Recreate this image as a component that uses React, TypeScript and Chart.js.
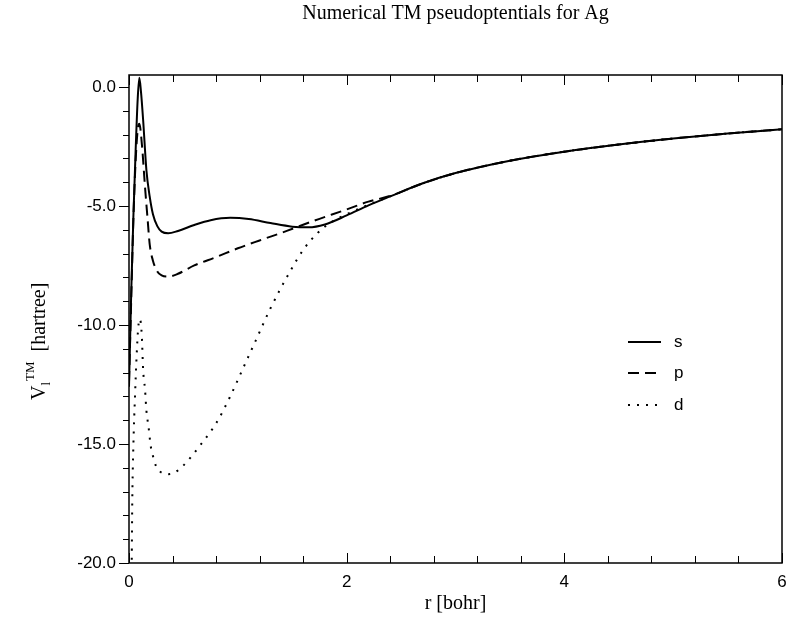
import React, { useEffect, useRef } from 'react';
import { Chart, registerables } from 'chart.js';

Chart.register(...registerables);

const chartTitle = 'Numerical TM pseudoptentials for Ag';
const xAxisTitle = 'r [bohr]';
const seriesNames = ['s', 'p', 'd'];

const rS = [0, 0.02, 0.04, 0.06, 0.08, 0.095, 0.11, 0.13, 0.16, 0.19, 0.22, 0.26, 0.3, 0.36, 0.45, 0.6, 0.75, 0.93, 1.1, 1.3, 1.5, 1.65, 1.8, 2.0, 2.2, 2.4, 2.7, 3.0, 3.5, 4.0, 4.5, 5.0, 5.5, 6.0];
const vS = [-12.6, -8.7, -5.5, -2.8, -0.5, 0.38, -0.2, -1.4, -3.5, -4.6, -5.35, -5.85, -6.08, -6.15, -6.05, -5.8, -5.6, -5.5, -5.55, -5.72, -5.87, -5.9, -5.78, -5.4, -4.98, -4.6, -4.05, -3.62, -3.1, -2.72, -2.42, -2.17, -1.96, -1.78];

const rP = [0, 0.02, 0.04, 0.06, 0.08, 0.095, 0.12, 0.147, 0.17, 0.19, 0.22, 0.26, 0.3, 0.36, 0.45, 0.6, 0.8, 1.0, 1.2, 1.45, 1.7, 2.0, 2.2, 2.4, 2.7, 3.0, 3.5, 4.0, 4.5, 5.0, 5.5, 6.0];
const vP = [-12.4, -9.0, -5.6, -3.2, -1.8, -1.55, -2.5, -4.2, -5.5, -6.6, -7.3, -7.75, -7.92, -7.97, -7.85, -7.5, -7.15, -6.78, -6.45, -6.05, -5.62, -5.15, -4.82, -4.58, -4.05, -3.62, -3.1, -2.72, -2.42, -2.17, -1.96, -1.78];

const rD = [0.02, 0.025, 0.03, 0.04, 0.055, 0.07, 0.085, 0.1, 0.117, 0.13, 0.147, 0.16, 0.18, 0.2, 0.22, 0.25, 0.31, 0.36, 0.42, 0.5, 0.65, 0.81, 0.93, 1.05, 1.16, 1.3, 1.48, 1.6, 1.73, 1.86, 2.0, 2.2, 2.4, 2.7, 3.0, 3.5, 4.0, 4.5, 5.0, 5.5, 6.0];
const vD = [-22.5, -20, -17.4, -15.1, -13.0, -11.3, -10.1, -9.75, -10.4, -11.9, -12.7, -13.6, -14.3, -15.1, -15.5, -15.95, -16.23, -16.27, -16.2, -15.9, -15.08, -14.06, -13.0, -11.8, -10.7, -9.3, -7.75, -6.85, -6.15, -5.68, -5.35, -4.95, -4.6, -4.05, -3.62, -3.1, -2.72, -2.42, -2.17, -1.96, -1.78];

const xMajor = [0, 2, 4, 6];
const xMinor = [0.4, 0.8, 1.2, 1.6, 2.4, 2.8, 3.2, 3.6, 4.4, 4.8, 5.2, 5.6];
const yMajor = [-20, -15, -10, -5, 0];
const yMinor = [-19, -18, -17, -16, -14, -13, -12, -11, -9, -8, -7, -6, -4, -3, -2, -1];

const SERIF = '"Liberation Serif", "Times New Roman", serif';
const SANS = '"Liberation Sans", Arial, sans-serif';

const decorPlugin = {
  id: 'decor',
  afterDraw(chart: any) {
    const ctx = chart.ctx;
    const ca = chart.chartArea;
    const xs = chart.scales.x;
    const ys = chart.scales.y;
    ctx.save();
    ctx.strokeStyle = '#000';
    ctx.fillStyle = '#000';
    ctx.lineWidth = 1.5;
    ctx.strokeRect(ca.left, ca.top, ca.right - ca.left, ca.bottom - ca.top);
    ctx.lineWidth = 1;
    const xt = (v: number, len: number) => {
      const px = Math.round(xs.getPixelForValue(v)) + 0.5;
      ctx.beginPath();
      ctx.moveTo(px, ca.bottom);
      ctx.lineTo(px, ca.bottom - len);
      ctx.moveTo(px, ca.top);
      ctx.lineTo(px, ca.top + len);
      ctx.stroke();
    };
    xMajor.forEach((v) => xt(v, 10));
    xMinor.forEach((v) => xt(v, 7));
    const yt = (v: number, len: number) => {
      const py = Math.round(ys.getPixelForValue(v)) + 0.5;
      ctx.beginPath();
      ctx.moveTo(ca.left, py);
      ctx.lineTo(ca.left - len, py);
      ctx.stroke();
    };
    yMajor.forEach((v) => yt(v, 10));
    yMinor.forEach((v) => yt(v, 6));

    ctx.font = '20px ' + SERIF;
    ctx.textAlign = 'center';
    ctx.textBaseline = 'middle';
    ctx.fillText(chartTitle, (ca.left + ca.right) / 2, 14);
    ctx.fillText(xAxisTitle, (ca.left + ca.right) / 2, 604);

    ctx.save();
    ctx.translate(45, 400);
    ctx.rotate(-Math.PI / 2);
    ctx.textAlign = 'left';
    ctx.textBaseline = 'alphabetic';
    let x = 0;
    ctx.font = '20px ' + SERIF;
    ctx.fillText('V', x, 0);
    x += ctx.measureText('V').width;
    ctx.font = '13px ' + SERIF;
    ctx.fillText('l', x, 5);
    const lw = ctx.measureText('l').width;
    ctx.fillText('TM', x + lw + 1, -11);
    x += lw + 1 + ctx.measureText('TM').width;
    ctx.font = '20px ' + SERIF;
    ctx.fillText('  [hartree]', x, 0);
    ctx.restore();

    const rows = [342, 373, 405];
    const dashes = [[], [11, 6], [2, 7]];
    ctx.lineWidth = 2;
    rows.forEach((yy, i) => {
      ctx.setLineDash(dashes[i]);
      ctx.lineCap = 'butt';
      ctx.beginPath();
      ctx.moveTo(628, yy);
      ctx.lineTo(661, yy);
      ctx.stroke();
    });
    ctx.setLineDash([]);
    ctx.font = '17px ' + SANS;
    ctx.textAlign = 'left';
    ctx.textBaseline = 'middle';
    rows.forEach((yy, i) => ctx.fillText(seriesNames[i], 674, yy));
    ctx.restore();
  },
};

function pts(rs: number[], vs: number[]) {
  return rs.map((r, i) => ({ x: r, y: vs[i] }));
}

export default function App() {
  const ref = useRef<HTMLCanvasElement>(null);
  useEffect(() => {
    if (!ref.current) return;
    const chart = new Chart(ref.current, {
      type: 'line',
      data: {
        datasets: [
          { label: seriesNames[0], data: pts(rS, vS), borderColor: '#000', borderWidth: 2, pointRadius: 0, cubicInterpolationMode: 'monotone', fill: false },
          { label: seriesNames[1], data: pts(rP, vP), borderColor: '#000', borderWidth: 2, borderDash: [11, 6], pointRadius: 0, cubicInterpolationMode: 'monotone', fill: false },
          { label: seriesNames[2], data: pts(rD, vD), borderColor: '#000', borderWidth: 2, borderDash: [2, 7], borderCapStyle: 'butt', pointRadius: 0, cubicInterpolationMode: 'monotone', fill: false },
        ],
      },
      options: {
        responsive: false,
        animation: false,
        layout: { padding: { left: 0, top: 75, right: 5, bottom: 0 } },
        plugins: { legend: { display: false }, title: { display: false }, tooltip: { enabled: false } },
        scales: {
          x: {
            type: 'linear',
            min: 0,
            max: 6,
            grid: { display: false, drawTicks: false },
            border: { display: false },
            afterFit: (s: any) => { s.height = 57; s.paddingLeft = 0; s.paddingRight = 0; },
            afterBuildTicks: (s: any) => { s.ticks = xMajor.map((v) => ({ value: v })); },
            ticks: { padding: 9, color: '#000', font: { family: SANS, size: 17 }, maxRotation: 0, callback: (v: any) => String(v) },
          },
          y: {
            type: 'linear',
            min: -20,
            max: 0.5,
            grid: { display: false, drawTicks: false },
            border: { display: false },
            afterFit: (s: any) => { s.width = 129; s.paddingTop = 0; s.paddingBottom = 0; },
            afterBuildTicks: (s: any) => { s.ticks = yMajor.map((v) => ({ value: v })); },
            ticks: { padding: 13, color: '#000', font: { family: SANS, size: 17 }, callback: (v: any) => Number(v).toFixed(1) },
          },
        },
      },
      plugins: [decorPlugin],
    } as any);
    return () => chart.destroy();
  }, []);
  return (
    <div style={{ position: 'fixed', left: 0, top: 0, width: 787, height: 620, background: '#fff' }}>
      <canvas ref={ref} width={787} height={620} style={{ width: 787, height: 620 }} />
    </div>
  );
}
